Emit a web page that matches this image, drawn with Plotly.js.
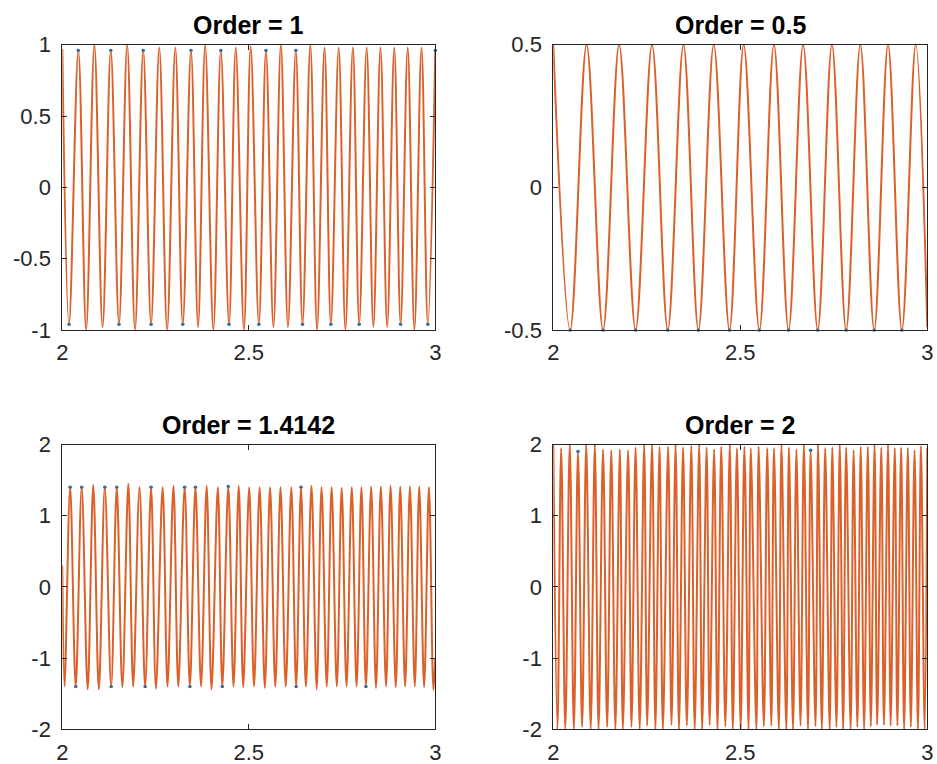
<!DOCTYPE html>
<html><head><meta charset="utf-8">
<script src="https://cdn.plot.ly/plotly-3.0.1.min.js"></script>
<style>html,body{margin:0;padding:0;background:#fff}#chart{width:937px;height:764px}</style>
</head><body><div id="chart"></div>
<script>
// ---- titles and ticks ----
const titles = ['Order = 1', 'Order = 0.5', 'Order = 1.4142', 'Order = 2'];
const xTickVals = [2, 2.5, 3];
const xTickText = ['2', '2.5', '3'];
const yTickVals1 = [-1, -0.5, 0, 0.5, 1];
const yTickText1 = ['-1', '-0.5', '0', '0.5', '1'];
const yTickVals2 = [-0.5, 0, 0.5];
const yTickText2 = ['-0.5', '0', '0.5'];
const yTickVals34 = [-2, -1, 0, 1, 2];
const yTickText34 = ['-2', '-1', '0', '1', '2'];

// ---- Order = 1 : extrema of the interpolated signal ----
const p1PeakX = [2.000,2.043,2.086,2.130,2.174,2.217,2.260,2.303,2.345,2.383,2.425,2.465,2.505,2.546,2.586,2.626,2.665,2.703,2.741,2.779,2.816,2.853,2.890,2.926,2.963,3.000];
const p1PeakY = [0.97,0.96,1.00,0.96,1.00,0.96,0.98,0.98,0.96,1.00,0.96,0.98,0.99,0.96,1.00,0.96,1.00,0.98,0.98,0.98,0.98,0.98,0.98,0.98,0.98,0.96];
const p1TroughX = [2.018,2.064,2.108,2.152,2.195,2.238,2.281,2.323,2.364,2.405,2.447,2.487,2.527,2.566,2.605,2.644,2.683,2.720,2.759,2.796,2.834,2.871,2.907,2.944,2.980];
const p1TroughY = [-0.96,-1.00,-0.98,-0.96,-1.00,-0.96,-1.00,-0.96,-0.98,-1.00,-0.96,-1.00,-0.96,-0.98,-0.98,-0.96,-1.00,-0.96,-1.00,-0.96,-0.98,-0.98,-0.96,-1.00,-0.96];
const p1DotX = [2.043,2.130,2.217,2.345,2.425,2.546,2.626,3.000,2.018,2.152,2.238,2.323,2.447,2.527,2.644,2.720,2.796,2.907,2.980];
const p1DotY = [0.96,0.96,0.96,0.96,0.96,0.96,0.96,0.96,-0.96,-0.96,-0.96,-0.96,-0.96,-0.96,-0.96,-0.96,-0.96,-0.96,-0.96];

// ---- Order = 0.5 ----
const p2PeakX = [2.000,2.089,2.176,2.264,2.348,2.429,2.509,2.590,2.668,2.745,2.821,2.895,2.969];
const p2PeakY = [0.5,0.5,0.5,0.5,0.5,0.5,0.5,0.5,0.5,0.5,0.5,0.5,0.5];
const p2TroughX = [2.045,2.133,2.220,2.306,2.388,2.471,2.551,2.629,2.707,2.783,2.858,2.932,3.000];
const p2TroughY = [-0.5,-0.5,-0.5,-0.5,-0.5,-0.5,-0.5,-0.5,-0.5,-0.5,-0.5,-0.5,-0.49];
const p2DotX = [2.045,2.133,2.220,2.306,2.388,2.471,2.551,2.629,2.707,2.783,2.858,2.932];
const p2DotY = [-0.5,-0.5,-0.5,-0.5,-0.5,-0.5,-0.5,-0.5,-0.5,-0.5,-0.5,-0.5];

// ---- Order = 1.4142 ----
const p3EdgeX = [2.000, 3.000];
const p3EdgeY = [0.3, -1.0];
const p3PeakX = [2.021,2.052,2.083,2.114,2.146,2.177,2.207,2.238,2.269,2.298,2.328,2.357,2.387,2.417,2.445,2.473,2.501,2.529,2.557,2.585,2.614,2.640,2.668,2.695,2.722,2.749,2.776,2.802,2.828,2.854,2.880,2.906,2.932,2.957,2.983];
const p3PeakY = [1.40,1.40,1.43,1.40,1.40,1.45,1.40,1.40,1.40,1.42,1.40,1.40,1.42,1.40,1.41,1.42,1.40,1.40,1.40,1.40,1.40,1.40,1.42,1.40,1.40,1.39,1.40,1.40,1.41,1.41,1.42,1.41,1.41,1.41,1.40];
const p3TroughX = [2.006,2.036,2.068,2.098,2.131,2.161,2.190,2.222,2.251,2.282,2.311,2.342,2.372,2.400,2.429,2.459,2.485,2.514,2.543,2.571,2.599,2.627,2.653,2.682,2.709,2.736,2.762,2.789,2.814,2.841,2.868,2.894,2.919,2.945,2.970,2.995];
const p3TroughY = [-1.40,-1.40,-1.44,-1.44,-1.40,-1.41,-1.40,-1.40,-1.43,-1.40,-1.40,-1.40,-1.40,-1.44,-1.40,-1.40,-1.41,-1.40,-1.42,-1.40,-1.40,-1.40,-1.40,-1.44,-1.40,-1.40,-1.40,-1.40,-1.40,-1.42,-1.40,-1.41,-1.40,-1.40,-1.41,-1.45];
const p3DotX = [2.021,2.052,2.114,2.146,2.238,2.328,2.357,2.445,2.640,2.036,2.131,2.222,2.342,2.429,2.627,2.814];
const p3DotY = [1.40,1.40,1.40,1.40,1.40,1.40,1.40,1.41,1.40,-1.40,-1.40,-1.40,-1.40,-1.40,-1.40,-1.40];

// ---- Order = 2 ----
const p4PeakX = [2.000,2.021,2.044,2.066,2.088,2.111,2.133,2.155,2.178,2.200,2.220,2.243,2.264,2.284,2.307,2.327,2.347,2.369,2.390,2.410,2.430,2.449,2.472,2.491,2.511,2.528,2.549,2.572,2.590,2.610,2.630,2.650,2.670,2.688,2.708,2.727,2.746,2.766,2.783,2.803,2.822,2.841,2.859,2.877,2.895,2.913,2.930,2.948,2.966,2.983,3.000];
const p4PeakY = [2.00,1.95,2.00,1.90,2.00,2.00,1.93,1.92,1.93,1.92,1.96,2.00,2.00,1.97,1.97,2.00,1.96,1.98,2.00,1.96,1.93,1.97,2.00,1.95,1.97,1.95,1.97,1.95,1.95,2.00,1.96,1.93,2.00,1.92,2.00,1.95,1.96,2.00,1.96,1.92,1.97,1.97,2.00,1.96,2.00,1.95,1.96,1.95,1.92,1.98,1.95];
const p4TroughX = [2.011,2.032,2.055,2.077,2.100,2.121,2.144,2.166,2.186,2.209,2.231,2.251,2.273,2.293,2.316,2.336,2.357,2.378,2.398,2.418,2.439,2.460,2.480,2.501,2.522,2.543,2.563,2.583,2.603,2.623,2.641,2.661,2.681,2.701,2.718,2.739,2.757,2.775,2.795,2.813,2.831,2.849,2.866,2.884,2.902,2.920,2.938,2.956,2.975,2.993];
const p4TroughY = [-2.00,-2.00,-2.00,-1.97,-2.00,-2.00,-1.97,-2.00,-2.00,-1.97,-2.00,-1.95,-2.00,-2.00,-1.94,-2.00,-1.95,-2.00,-2.00,-1.94,-2.00,-1.96,-2.00,-2.00,-2.00,-2.00,-1.96,-1.95,-2.00,-2.00,-2.00,-1.95,-2.00,-1.96,-2.00,-2.00,-1.97,-2.00,-2.00,-1.97,-2.00,-1.96,-1.94,-1.94,-1.95,-1.95,-2.00,-1.97,-2.00,-2.00];
const p4DotX = [2.066, 2.688];
const p4DotY = [1.90, 1.92];

// ---- build traces ----
const ORANGE = '#D95319', BLUE = '#0072BD';
function mergeSorted(groups) {
  const pts = [];
  groups.forEach(([xs, ys]) => xs.forEach((x, i) => pts.push([x, ys[i]])));
  pts.sort((a, b) => a[0] - b[0]);
  return { x: pts.map(p => p[0]), y: pts.map(p => p[1]) };
}
const panels = [
  { groups: [[p1PeakX, p1PeakY], [p1TroughX, p1TroughY]], dx: p1DotX, dy: p1DotY },
  { groups: [[p2PeakX, p2PeakY], [p2TroughX, p2TroughY]], dx: p2DotX, dy: p2DotY },
  { groups: [[p3EdgeX, p3EdgeY], [p3PeakX, p3PeakY], [p3TroughX, p3TroughY]], dx: p3DotX, dy: p3DotY },
  { groups: [[p4PeakX, p4PeakY], [p4TroughX, p4TroughY]], dx: p4DotX, dy: p4DotY }
];
const data = [];
panels.forEach((p, i) => {
  const s = i === 0 ? '' : String(i + 1);
  const line = mergeSorted(p.groups);
  data.push({ x: p.dx, y: p.dy, type: 'scatter', mode: 'markers', xaxis: 'x' + s, yaxis: 'y' + s,
    marker: { color: BLUE, size: 3.5 }, hoverinfo: 'skip', cliponaxis: false });
  data.push({ x: line.x, y: line.y, type: 'scatter', mode: 'lines', xaxis: 'x' + s, yaxis: 'y' + s,
    line: { color: ORANGE, width: 2, shape: 'spline', smoothing: 1 }, opacity: 0.92, hoverinfo: 'skip' });
});

const W = 937, H = 764;
const colX = [[62.3, 435.3], [553.3, 927.3]];
const rowY = [[44.7, 330], [444.5, 729.2]];
const FONT = '"Liberation Sans", Arial, Helvetica, sans-serif';
const TXT = '#262626';
function xAx(col, row) {
  return { domain: [colX[col][0] / W, colX[col][1] / W], range: [2, 3], anchor: 'y' + (row * 2 + col === 0 ? '' : row * 2 + col + 1),
    tickvals: xTickVals, ticktext: xTickText, ticks: 'inside', ticklen: 5, tickcolor: TXT, tickwidth: 1,
    showline: true, linecolor: TXT, linewidth: 1, mirror: 'ticks', showgrid: false, zeroline: false,
    tickfont: { family: FONT, size: 22, color: TXT }, ticklabelstandoff: 3, fixedrange: true };
}
function yAx(col, row, vals, text, rng) {
  return { domain: [1 - rowY[row][1] / H, 1 - rowY[row][0] / H], range: rng, anchor: 'x' + (row * 2 + col === 0 ? '' : row * 2 + col + 1),
    tickvals: vals, ticktext: text, ticks: 'inside', ticklen: 5, tickcolor: TXT, tickwidth: 1,
    showline: true, linecolor: TXT, linewidth: 1, mirror: 'ticks', showgrid: false, zeroline: false,
    tickfont: { family: FONT, size: 22, color: TXT }, ticklabelstandoff: 6, fixedrange: true };
}
const layout = {
  width: W, height: H, margin: { l: 0, r: 0, t: 0, b: 0 }, showlegend: false,
  paper_bgcolor: '#ffffff', plot_bgcolor: '#ffffff',
  xaxis: xAx(0, 0), yaxis: yAx(0, 0, yTickVals1, yTickText1, [-1, 1]),
  xaxis2: xAx(1, 0), yaxis2: yAx(1, 0, yTickVals2, yTickText2, [-0.5, 0.5]),
  xaxis3: xAx(0, 1), yaxis3: yAx(0, 1, yTickVals34, yTickText34, [-2, 2]),
  xaxis4: xAx(1, 1), yaxis4: yAx(1, 1, yTickVals34, yTickText34, [-2, 2]),
  annotations: titles.map((t, i) => {
    const col = i % 2, row = Math.floor(i / 2);
    return { text: '<b>' + t + '</b>', xref: 'paper', yref: 'paper', showarrow: false,
      x: (colX[col][0] + colX[col][1]) / 2 / W, y: 1 - (rowY[row][0] - 20) / H,
      xanchor: 'center', yanchor: 'middle', font: { family: FONT, size: 25, color: '#000' } };
  })
};
Plotly.newPlot('chart', data, layout, { staticPlot: true, displayModeBar: false });
</script>
</body></html>
